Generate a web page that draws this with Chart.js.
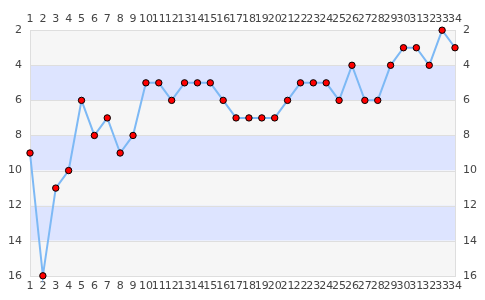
<!DOCTYPE html>
<html>
<head>
<meta charset="utf-8">
<script src="https://cdn.jsdelivr.net/npm/chart.js@4"></script>
<style>
  html, body { margin: 0; padding: 0; background: #fff; }
  #wrap { width: 485px; height: 300px; }
</style>
</head>
<body>
<div id="wrap"><canvas id="rankChart"></canvas></div>
<script>
// categorias do eixo x (rodadas)
const rounds = ['1','2','3','4','5','6','7','8','9','10','11','12','13','14','15','16','17',
                '18','19','20','21','22','23','24','25','26','27','28','29','30','31','32','33','34'];
// posição em cada rodada
const positions = [9, 16, 11, 10, 6, 8, 7, 9, 8, 5, 5, 6, 5, 5, 5, 6, 7,
                   7, 7, 7, 6, 5, 5, 5, 6, 4, 6, 6, 4, 3, 3, 4, 2, 3];
// faixas de fundo (de, até)
const bandEdges = [2, 4, 6, 8, 10, 12, 14, 16];

// Pinta as faixas alternadas atrás da linha
const bandsPlugin = {
    id: 'bands',
    beforeDatasetsDraw(chart) {
        const { ctx, chartArea, scales } = chart;
        const y = scales.y;
        ctx.save();
        for (let i = 0; i < bandEdges.length - 1; i++) {
            const y0 = y.getPixelForValue(bandEdges[i]);
            const y1 = y.getPixelForValue(bandEdges[i + 1]);
            ctx.fillStyle = i % 2 === 0 ? '#f6f6f6' : '#dde4ff';
            ctx.fillRect(chartArea.left, Math.min(y0, y1), chartArea.right - chartArea.left, Math.abs(y1 - y0));
        }
        // linhas horizontais
        ctx.strokeStyle = '#dedede';
        ctx.lineWidth = 1;
        bandEdges.forEach(v => {
            const py = Math.round(y.getPixelForValue(v)) + 0.5;
            ctx.beginPath();
            ctx.moveTo(chartArea.left, py);
            ctx.lineTo(chartArea.right, py);
            ctx.stroke();
        });
        ctx.strokeRect(Math.round(chartArea.left) + 0.5, Math.round(chartArea.top) + 0.5,
            Math.round(chartArea.right - chartArea.left), Math.round(chartArea.bottom - chartArea.top));
        ctx.restore();
    }
};

const tickFont = { family: 'DejaVu Sans', size: 11 };
const tickColor = '#444';

new Chart(document.getElementById('rankChart'), {
    type: 'line',
    data: {
        labels: rounds,
        datasets: [{
            data: positions,
            borderColor: '#7db9f5',
            borderWidth: 2,
            tension: 0,
            pointRadius: 3.2,
            pointHoverRadius: 3.2,
            pointBackgroundColor: '#ff0000',
            pointBorderColor: '#000',
            pointBorderWidth: 1,
            clip: false
        }]
    },
    options: {
        responsive: true,
        maintainAspectRatio: false,
        animation: false,
        layout: { padding: { left: 0, right: 0, top: 9, bottom: 3 } },
        plugins: { legend: { display: false }, tooltip: { enabled: false } },
        scales: {
            x: {
                position: 'bottom',
                offset: false,
                grid: { display: false, drawTicks: false },
                border: { display: false },
                ticks: { color: tickColor, font: tickFont, maxRotation: 0, autoSkip: false, padding: 4 }
            },
            xTop: {
                position: 'top',
                type: 'category',
                labels: rounds,
                offset: false,
                grid: { display: false, drawTicks: false },
                border: { display: false },
                ticks: { color: tickColor, font: tickFont, maxRotation: 0, autoSkip: false, padding: 4 }
            },
            y: {
                position: 'left',
                reverse: true,
                min: 2,
                max: 16,
                grid: { display: false, drawTicks: false },
                border: { display: false },
                ticks: { stepSize: 2, color: tickColor, font: tickFont, padding: 8 }
            },
            yRight: {
                position: 'right',
                reverse: true,
                min: 2,
                max: 16,
                grid: { display: false, drawTicks: false },
                border: { display: false },
                ticks: { stepSize: 2, color: tickColor, font: tickFont, padding: 8 }
            }
        }
    },
    plugins: [bandsPlugin]
});
</script>
</body>
</html>
